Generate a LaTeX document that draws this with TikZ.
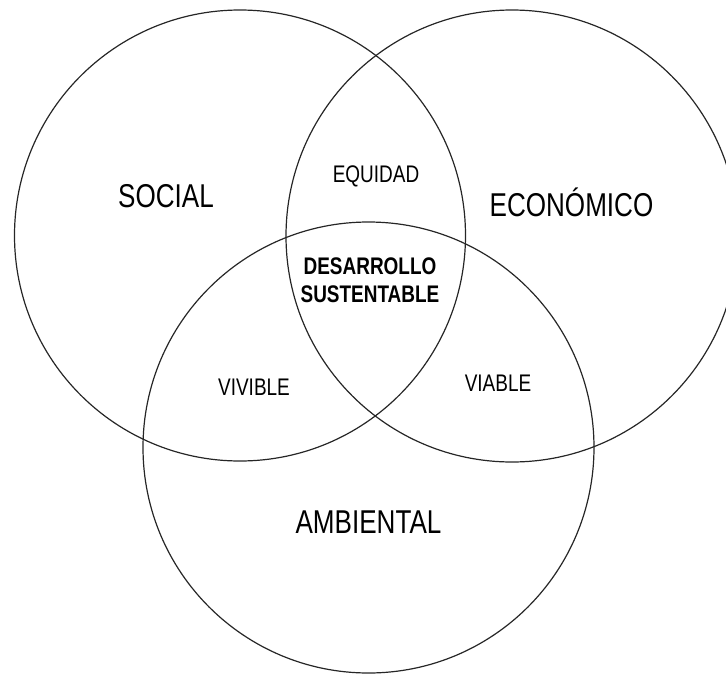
\documentclass[tikz,border=0pt]{standalone}
\usepackage{fontspec}
\setmainfont{Liberation Sans}[FakeStretch=0.79]
\begin{document}
\begin{tikzpicture}[x=1pt,y=-1pt,
  ring/.style={circle,draw=black!85,line width=1.2pt,inner sep=0pt,minimum size=451pt},
  big/.style={font=\fontsize{33}{36}\selectfont,inner sep=0pt},
  small/.style={font=\fontsize{24}{27}\selectfont,inner sep=0pt},
  core/.style={font=\fontsize{24}{28}\selectfont\bfseries,inner sep=0pt,align=center}]
\useasboundingbox (0,0) rectangle (726,675);
\clip (0,0) rectangle (726,675);
\node[ring] (soc) at (240,235.5) {};
\node[ring,minimum size=452pt] (eco) at (512,236) {};
\node[ring] (amb) at (368.5,447.5) {};
\node[big] (tsoc) at (166,196) {SOCIAL};
\node[big] (teco) at (571.5,202) {ECONÓMICO};
\node[big] (tamb) at (368.5,522) {AMBIENTAL};
\node[small] (teq) at (376,176) {EQUIDAD};
\node[small] (tviv) at (254,387) {VIVIBLE};
\node[small] (tvia) at (498,383) {VIABLE};
\node[core] (tds) at (370,280) {DESARROLLO\\SUSTENTABLE};
\end{tikzpicture}
\end{document}
